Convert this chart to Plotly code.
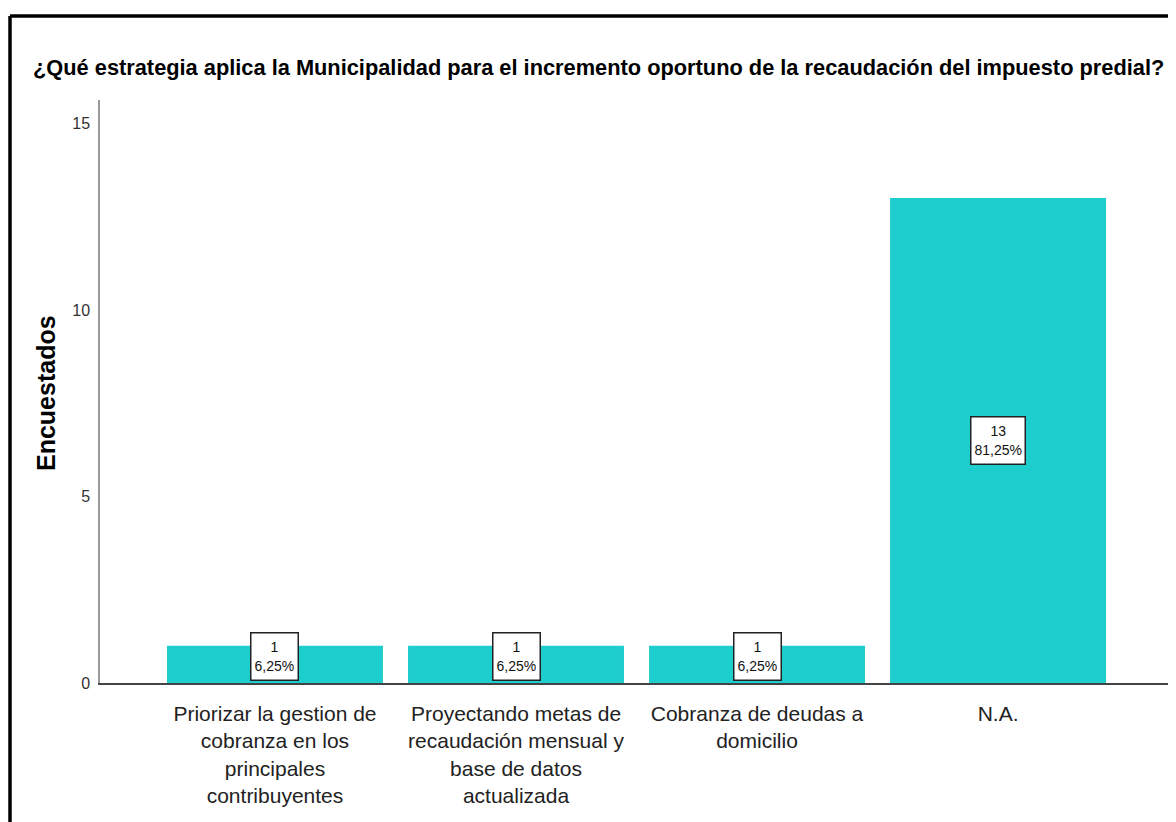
import plotly.graph_objects as go

categories = [
    "Priorizar la gestion de<br>cobranza en los<br>principales<br>contribuyentes",
    "Proyectando metas de<br>recaudación mensual y<br>base de datos<br>actualizada",
    "Cobranza de deudas a<br>domicilio",
    "N.A.",
]
counts = [1, 1, 1, 13]
percents = ["6,25%", "6,25%", "6,25%", "81,25%"]
y_ticks = [0, 5, 10, 15]

W, H = 1176, 822
ML, MR, MT, MB = 92, 10, 92, 147
PW, PH = W - ML - MR, H - MT - MB

FONT = "Liberation Sans, Arial, sans-serif"

fig = go.Figure()
fig.add_trace(go.Bar(
    x=list(range(len(categories))),
    y=counts,
    marker=dict(color="#1ECDCD", line=dict(width=0)),
    hoverinfo="skip",
))

for i, (c, p) in enumerate(zip(counts, percents)):
    fig.add_annotation(
        x=i, y=max(c / 2, 0.7), xref="x", yref="y",
        text=f"{c}<br>{p}", showarrow=False,
        font=dict(family=FONT, size=14, color="#111111"),
        bgcolor="white", bordercolor="#222222", borderwidth=1.5,
        borderpad=3, height=40, align="center",
    )

def px_x(px):
    return (px - ML) / PW

def px_y(py):
    return (H - MB - py) / PH

# y-axis title
fig.add_annotation(
    x=px_x(38), y=px_y(385), xref="paper", yref="paper",
    text="<b>Encuestados</b>", textangle=-90, showarrow=False,
    xanchor="center", yanchor="middle",
    font=dict(family=FONT, size=25, color="black"),
)

# outer frame (top + left)
fig.add_shape(type="line", xref="paper", yref="paper",
              x0=px_x(2), x1=px_x(W + 5), y0=px_y(8), y1=px_y(8),
              line=dict(color="black", width=3.5))
fig.add_shape(type="line", xref="paper", yref="paper",
              x0=px_x(2), x1=px_x(2), y0=px_y(8), y1=px_y(H + 5),
              line=dict(color="black", width=3.5))

fig.update_layout(
    width=W, height=H,
    margin=dict(l=ML, r=MR, t=MT, b=MB, autoexpand=False),
    paper_bgcolor="white", plot_bgcolor="white",
    showlegend=False,
    bargap=0.104,
    title=dict(
        text="<b>¿Qué estrategia aplica la Municipalidad para el incremento oportuno de la recaudación del impuesto predial?</b>",
        x=25 / W, xanchor="left", xref="container",
        y=1 - 59 / H, yanchor="middle", yref="container",
        font=dict(family=FONT, size=21.8, color="black"),
    ),
    xaxis=dict(
        tickmode="array", tickvals=list(range(len(categories))), ticktext=categories,
        range=[-0.726, 3.73], showgrid=False, zeroline=False,
        showline=True, linecolor="#444444", linewidth=1.5,
        ticks="", tickfont=dict(family=FONT, size=21, color="#222222"),
        ticklabelstandoff=11, fixedrange=True,
    ),
    yaxis=dict(
        range=[0, 15.63], tickvals=y_ticks, showgrid=False, zeroline=False,
        showline=True, linecolor="#999999", linewidth=1.5,
        ticks="", tickfont=dict(family=FONT, size=16, color="#333333"),
        ticklabelstandoff=5, fixedrange=True,
    ),
)

fig.write_html("out.html")
